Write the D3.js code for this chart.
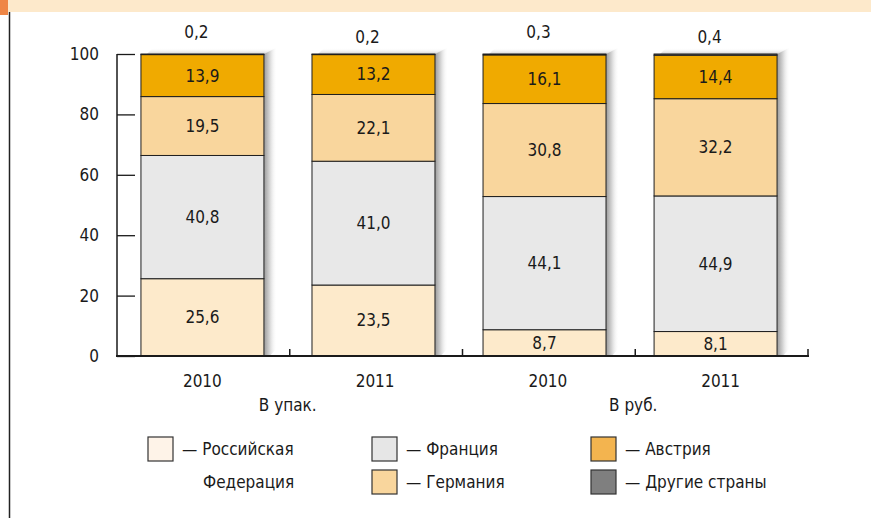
<!DOCTYPE html>
<html>
<head>
<meta charset="utf-8">
<script src="https://cdn.jsdelivr.net/npm/d3@7"></script>
<style>
    body { margin: 0; background: #fff; }
    svg { display: block; }
    text { font-family: "Liberation Sans Narrow", "DejaVu Sans Condensed", "Noto Sans", sans-serif; fill: #1a1a1a; }
</style>
</head>
<body>
<div id="chart"></div>
<script>
const bars = ['2010a', '2011a', '2010b', '2011b'];
const barLabels = ['2010', '2011', '2010', '2011'];
const groups = ['В упак.', 'В руб.'];
const countries = ['Российская Федерация', 'Франция', 'Германия', 'Австрия', 'Другие страны'];

const russia = [25.6, 23.5, 8.7, 8.1];
const france = [40.8, 41.0, 44.1, 44.9];
const germany = [19.5, 22.1, 30.8, 32.2];
const austria = [13.9, 13.2, 16.1, 14.4];
const others = [0.2, 0.2, 0.3, 0.4];

const yTicks = [0, 20, 40, 60, 80, 100];

const fills = ['#fdeacb', '#e8e8e8', '#f9d69d', '#f0aa00', '#7f7f7f'];
const legendFills = ['#fef3e8', '#e6e6e6', '#f9d69d', '#f3b44f', '#7f7f7f'];

const W = 871, H = 518;
const FS = '17px';
const svg = d3.select('#chart').append('svg')
    .attr('width', W)
    .attr('height', H);

// header strip
svg.append('rect').attr('x', 0).attr('y', 0).attr('width', W).attr('height', 12).attr('fill', '#fde9cb');
svg.append('rect').attr('x', 0).attr('y', 0).attr('width', 8).attr('height', 15).attr('fill', '#ef8646');
svg.append('line').attr('x1', 9.5).attr('x2', 9.5).attr('y1', 12).attr('y2', H)
    .attr('stroke', '#222').attr('stroke-width', 1.5);

// axis categories (tick marks, year labels)
const xAxisScale = d3.scaleBand()
    .domain(bars)
    .range([117, 808]);

// bar placement
const x = d3.scaleBand()
    .domain(bars)
    .range([117, 801])
    .paddingInner(0.281)
    .paddingOuter(0.14);

const y = d3.scaleLinear()
    .domain([0, 100])
    .range([356, 54]);

const table = bars.map((b, i) => ({
    key: b,
    label: barLabels[i],
    values: [russia[i], france[i], germany[i], austria[i], others[i]]
}));

const stack = d3.stack().keys(d3.range(countries.length)).value((d, k) => d.values[k]);
const series = stack(table);

// shadow gradient
const defs = svg.append('defs');
const grad = defs.append('linearGradient').attr('id', 'shade').attr('x1', '0%').attr('x2', '100%');
grad.append('stop').attr('offset', '0%').attr('stop-color', '#9a9a9a');
grad.append('stop').attr('offset', '45%').attr('stop-color', '#d6d6d6');
grad.append('stop').attr('offset', '100%').attr('stop-color', '#ffffff').attr('stop-opacity', 0);
const gradTop = defs.append('linearGradient').attr('id', 'shadeTop').attr('x1', '0%').attr('x2', '0%').attr('y1', '100%').attr('y2', '0%');
gradTop.append('stop').attr('offset', '0%').attr('stop-color', '#d0d0d0');
gradTop.append('stop').attr('offset', '100%').attr('stop-color', '#ffffff').attr('stop-opacity', 0);

const bw = x.bandwidth();
table.forEach(d => {
    const x0 = x(d.key), x1 = x0 + bw;
    svg.append('polygon')
        .attr('points', [[x0 + 6, y(100)], [x0 + 12, y(100) - 6], [x1 + 12, y(100) - 6], [x1, y(100)]].join(' '))
        .attr('fill', 'url(#shadeTop)');
    svg.append('polygon')
        .attr('points', [[x1, y(100)], [x1 + 12, y(100) - 6], [x1 + 13, y(0) - 8], [x1 + 6, y(0)], [x1, y(0)]].join(' '))
        .attr('fill', 'url(#shade)');
});

series.forEach((s, k) => {
    svg.append('g')
        .selectAll('rect')
        .data(s)
        .enter()
        .append('rect')
        .attr('x', d => x(d.data.key))
        .attr('y', d => y(d[1]))
        .attr('width', bw)
        .attr('height', d => y(d[0]) - y(d[1]))
        .attr('fill', fills[k])
        .attr('stroke', '#1f1f1f')
        .attr('stroke-width', 1);
});

const fmt = v => d3.format('.1f')(v).replace('.', ',');

// segment labels (all but "others")
series.slice(0, 4).forEach(s => {
    svg.append('g')
        .selectAll('text')
        .data(s)
        .enter()
        .append('text')
        .attr('x', d => x(d.data.key) + bw / 2)
        .attr('y', d => (y(d[0]) + y(d[1])) / 2)
        .attr('dy', '0.35em')
        .attr('text-anchor', 'middle')
        .style('font-size', FS)
        .text(d => fmt(d[1] - d[0]));
});

// "others" labels above bars
svg.append('g')
    .selectAll('text')
    .data(table)
    .enter()
    .append('text')
    .attr('x', d => x(d.key) + bw / 2 - 6)
    .attr('y', (d, i) => y(100) - 16 + (i % 2) * 5)
    .attr('text-anchor', 'middle')
    .style('font-size', FS)
    .text(d => fmt(d.values[4]));

// y axis
const yAxis = svg.append('g')
    .attr('transform', 'translate(117,0)')
    .call(d3.axisRight(y).tickValues(yTicks).tickSize(18).tickFormat(d => d));
yAxis.select('.domain').remove();
yAxis.selectAll('.tick line').attr('stroke', '#1a1a1a').attr('stroke-width', 1.3);
yAxis.selectAll('.tick text')
    .attr('x', -18)
    .attr('text-anchor', 'end')
    .style('font-size', FS)
    .attr('fill', '#1a1a1a');
svg.append('line')
    .attr('x1', 117).attr('x2', 117)
    .attr('y1', y(100)).attr('y2', y(0))
    .attr('stroke', '#1a1a1a').attr('stroke-width', 1.5);

// x axis
svg.append('line')
    .attr('x1', 116).attr('x2', 809)
    .attr('y1', y(0)).attr('y2', y(0))
    .attr('stroke', '#1a1a1a').attr('stroke-width', 2);
const boundaries = bars.map(b => xAxisScale(b) + xAxisScale.bandwidth());
svg.append('g')
    .selectAll('line')
    .data(boundaries)
    .enter()
    .append('line')
    .attr('x1', d => d).attr('x2', d => d)
    .attr('y1', y(0) - 7).attr('y2', y(0))
    .attr('stroke', '#1a1a1a').attr('stroke-width', 1.5);

svg.append('g')
    .selectAll('text')
    .data(table)
    .enter()
    .append('text')
    .attr('x', d => xAxisScale(d.key) + xAxisScale.bandwidth() / 2 - 1)
    .attr('y', 387)
    .attr('text-anchor', 'middle')
    .style('font-size', FS)
    .text(d => d.label);

svg.append('g')
    .selectAll('text')
    .data(groups)
    .enter()
    .append('text')
    .attr('x', (d, i) => boundaries[i * 2] - 2)
    .attr('y', 411)
    .attr('text-anchor', 'middle')
    .style('font-size', FS)
    .text(d => d);

// legend
const legendPos = [[148, 437], [372, 437], [372, 470], [591, 437], [591, 470]];
const legendText = ['— Российская', '— Франция', '— Германия', '— Австрия', '— Другие страны'];
const legend = svg.append('g');
countries.forEach((c, i) => {
    const [lx, ly] = legendPos[i];
    legend.append('rect')
        .attr('x', lx).attr('y', ly)
        .attr('width', 25).attr('height', 24)
        .attr('fill', legendFills[i])
        .attr('stroke', '#333').attr('stroke-width', 1.2);
    legend.append('text')
        .attr('x', lx + 34).attr('y', ly + 12)
        .attr('dy', '0.35em')
        .style('font-size', FS)
        .text(legendText[i]);
});
legend.append('text')
    .attr('x', 203).attr('y', 482)
    .attr('dy', '0.35em')
    .style('font-size', FS)
    .text('Федерация');
</script>
</body>
</html>
